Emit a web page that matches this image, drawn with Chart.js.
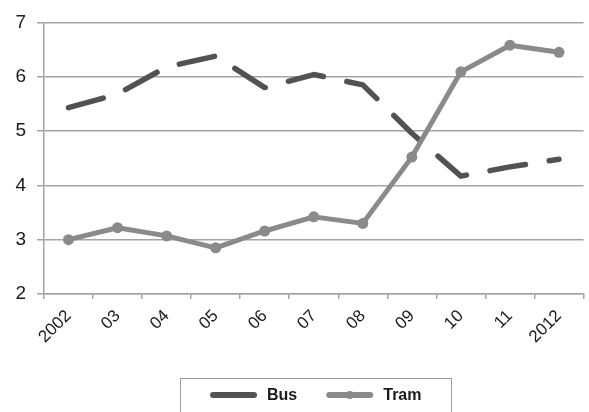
<!DOCTYPE html>
<html>
<head>
<meta charset="utf-8">
<script src="https://cdn.jsdelivr.net/npm/chart.js@4/dist/chart.umd.min.js"></script>
<style>
  html, body { margin: 0; padding: 0; background: #fff; }
  #wrap { width: 589px; height: 412px; }
</style>
</head>
<body>
<div id="wrap"><canvas id="c" width="589" height="412"></canvas></div>
<script>
// Years on the category axis
const years = ['2002', '03', '04', '05', '06', '07', '08', '09', '10', '11', '2012'];
// Series values
const busValues  = [5.43, 5.68, 6.18, 6.38, 5.80, 6.04, 5.85, 4.96, 4.17, 4.34, 4.48];
const tramValues = [3.00, 3.22, 3.07, 2.85, 3.16, 3.42, 3.30, 4.52, 6.09, 6.58, 6.45];
// Value axis range
const yMin = 2, yMax = 7;

const BUS_COLOR = '#525252';
const TRAM_COLOR = '#8a8a8a';
const GRID_COLOR = '#a3a3a3';
const FONT = '"Liberation Sans", Arial, sans-serif';

// Boxed legend drawn under the axis labels
const boxLegend = {
  id: 'boxLegend',
  afterDraw(chart) {
    const ctx = chart.ctx;
    const area = chart.chartArea;
    const lineLen = 47, gapText = 10, gapItem = 29;
    ctx.save();
    ctx.font = 'bold 16px ' + FONT;
    const items = chart.data.datasets.map(ds => ({
      ds, w: lineLen + gapText + ctx.measureText(ds.label).width
    }));
    const total = items.reduce((s, it) => s + it.w, 0) + gapItem * (items.length - 1);
    const boxW = 271;
    const cx = (area.left + area.right) / 2 + 2;
    const boxL = Math.round(cx - boxW / 2) + 0.5;
    const boxT = 378.5;
    ctx.strokeStyle = '#9a9a9a';
    ctx.lineWidth = 1;
    ctx.strokeRect(boxL, boxT, boxW, 60);
    let x = cx - total / 2;
    const y = 395;
    items.forEach(it => {
      const ds = it.ds;
      ctx.strokeStyle = ds.borderColor;
      ctx.lineWidth = 6;
      ctx.lineCap = 'round';
      ctx.beginPath();
      ctx.moveTo(x + 3, y);
      ctx.lineTo(x + lineLen - 3, y);
      ctx.stroke();
      if (ds.pointRadius > 0) {
        ctx.fillStyle = ds.pointBackgroundColor;
        ctx.beginPath();
        ctx.arc(x + lineLen / 2, y, 4, 0, Math.PI * 2);
        ctx.fill();
      }
      ctx.fillStyle = '#1a1a1a';
      ctx.textAlign = 'left';
      ctx.textBaseline = 'middle';
      ctx.fillText(ds.label, x + lineLen + gapText, y + 1);
      x += it.w + gapItem;
    });
    ctx.restore();
  }
};

new Chart(document.getElementById('c'), {
  type: 'line',
  data: {
    labels: years,
    datasets: [
      {
        label: 'Bus',
        data: busValues,
        borderColor: BUS_COLOR,
        backgroundColor: BUS_COLOR,
        borderWidth: 5.5,
        borderDash: [36, 24],
        borderCapStyle: 'round',
        borderJoinStyle: 'round',
        pointRadius: 0,
        tension: 0,
        order: 1
      },
      {
        label: 'Tram',
        data: tramValues,
        borderColor: TRAM_COLOR,
        backgroundColor: TRAM_COLOR,
        pointBackgroundColor: TRAM_COLOR,
        pointBorderColor: TRAM_COLOR,
        borderWidth: 5,
        borderJoinStyle: 'round',
        pointRadius: 5.5,
        pointBorderWidth: 0,
        tension: 0,
        order: 0
      }
    ]
  },
  options: {
    responsive: false,
    animation: false,
    layout: { padding: { top: 20, right: 4, left: 0, bottom: 0 } },
    plugins: {
      legend: { display: false },
      tooltip: { enabled: false }
    },
    scales: {
      x: {
        type: 'category',
        offset: true,
        grid: {
          offset: true,
          drawOnChartArea: false,
          drawTicks: true,
          tickLength: 5,
          color: GRID_COLOR,
          lineWidth: 1.5
        },
        border: { display: true, color: GRID_COLOR, width: 1.5 },
        ticks: {
          minRotation: 45,
          maxRotation: 45,
          autoSkip: false,
          padding: 7,
          color: '#1a1a1a',
          font: { family: FONT, size: 17 }
        },
        afterFit(scale) { scale.height = 118; }
      },
      y: {
        min: yMin,
        max: yMax,
        grid: {
          color: GRID_COLOR,
          lineWidth: 1.5,
          drawTicks: true,
          tickLength: 7
        },
        border: { display: true, color: GRID_COLOR, width: 1.5 },
        ticks: {
          stepSize: 1,
          padding: 11,
          color: '#1a1a1a',
          font: { family: FONT, size: 19 }
        },
        afterFit(scale) { scale.width = 44; }
      }
    }
  },
  plugins: [boxLegend]
});
</script>
</body>
</html>
